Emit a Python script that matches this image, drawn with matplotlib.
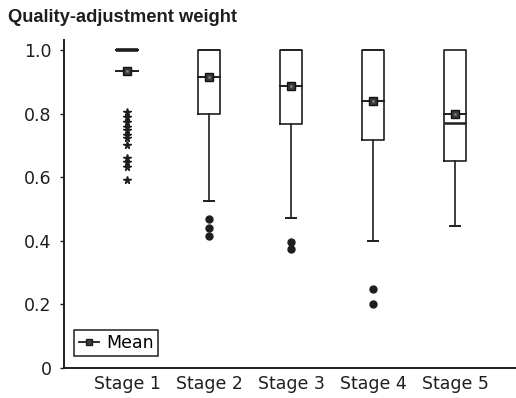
import matplotlib
matplotlib.use("Agg")
import matplotlib.pyplot as plt
from matplotlib.lines import Line2D

plt.rcParams['font.family'] = ['DejaVu Sans']

stages = ["Stage 1", "Stage 2", "Stage 3", "Stage 4", "Stage 5"]
q1 = [1.0, 0.80, 0.766, 0.717, 0.651]
q3 = [1.0, 1.0, 1.0, 1.0, 1.0]
medians = [1.0, 1.0, 1.0, 1.0, 0.771]
whislo = [1.0, 0.526, 0.471, 0.40, 0.446]
whishi = [1.0, 1.0, 1.0, 1.0, 1.0]
means = [0.934, 0.916, 0.888, 0.841, 0.80]
fliers = [
    [0.806, 0.790, 0.774, 0.758, 0.748, 0.733, 0.723, 0.701, 0.660, 0.648, 0.633, 0.591],
    [0.468, 0.44, 0.415],
    [0.397, 0.374],
    [0.248, 0.20],
    [],
]
yticks = [0, 0.2, 0.4, 0.6, 0.8, 1.0]
ytick_labels = ["0", "0.2", "0.4", "0.6", "0.8", "1.0"]

fig = plt.figure(figsize=(5.16, 3.98), dpi=100)
ax = fig.add_axes([0.124, 0.0754, 0.876, 0.823])

positions = list(range(1, len(stages) + 1))
stats = []
for i in range(len(stages)):
    stats.append(dict(med=medians[i], q1=q1[i], q3=q3[i], whislo=whislo[i],
                      whishi=whishi[i], fliers=fliers[i], label=stages[i]))

ink = '#1e1e1e'
bw = 0.27
res = ax.bxp(stats, positions=positions, widths=bw, capwidths=0.12,
             showfliers=True, showcaps=True,
             boxprops=dict(color=ink, linewidth=1.2),
             whiskerprops=dict(color=ink, linewidth=1.2),
             capprops=dict(color=ink, linewidth=1.4),
             medianprops=dict(color=ink, linewidth=1.2),
             flierprops=dict(marker='o', markerfacecolor=ink,
                             markeredgecolor=ink, markersize=5))
# Stage 1: collapsed box at 1.0, thick line, star outliers, no caps
res['medians'][0].set_linewidth(2.6)
res['medians'][4].set_linewidth(1.8)
res['fliers'][0].set_marker('*')
res['fliers'][0].set_markersize(5.5)
for c in res['caps'][0:2]:
    c.set_visible(False)
for k in range(len(stages)):
    res['caps'][2 * k + 1].set_visible(False)

for p, m in zip(positions, means):
    ax.plot([p - bw / 2, p + bw / 2], [m, m], color=ink, lw=1.4, zorder=4)
    ax.plot([p], [m], marker='s', markersize=6, markerfacecolor='#3a3a3a',
            markeredgecolor='#111111', zorder=5)
    ax.plot([p], [m], marker='s', markersize=1.5, markerfacecolor='#9a9a9a',
            markeredgecolor='none', zorder=6)

ax.set_xlim(0.232, 5.744)
ax.set_ylim(0, 1.03)
ax.set_xticks(positions)
ax.set_xticklabels(stages, fontsize=12.5)
ax.tick_params(axis='x', length=0, pad=5, colors=ink)
ax.set_yticks(yticks)
ax.set_yticklabels(ytick_labels, fontsize=12.5)
ax.tick_params(axis='y', length=3, width=1, pad=6, colors=ink)
for s in ['top', 'right']:
    ax.spines[s].set_visible(False)
for s in ['left', 'bottom']:
    ax.spines[s].set_linewidth(1.4)
    ax.spines[s].set_color(ink)

fig.text(8 / 516, 1 - 18 / 398, "Quality-adjustment weight", fontsize=13.2,
         family='Liberation Sans', fontweight='bold',
         va='center', ha='left', color=ink)

handle = Line2D([], [], color=ink, lw=1.3, marker='s', markersize=5,
                markerfacecolor='#3a3a3a')
leg = ax.legend([handle], ["Mean"], loc='lower left', fontsize=12.5,
                bbox_to_anchor=(0.015, 0.025), fancybox=False, framealpha=1,
                edgecolor=ink, handlelength=1.2, handletextpad=0.4,
                borderpad=0.25, borderaxespad=0.2)
leg.get_frame().set_linewidth(1.1)

fig.savefig("out.png", dpi=100)
